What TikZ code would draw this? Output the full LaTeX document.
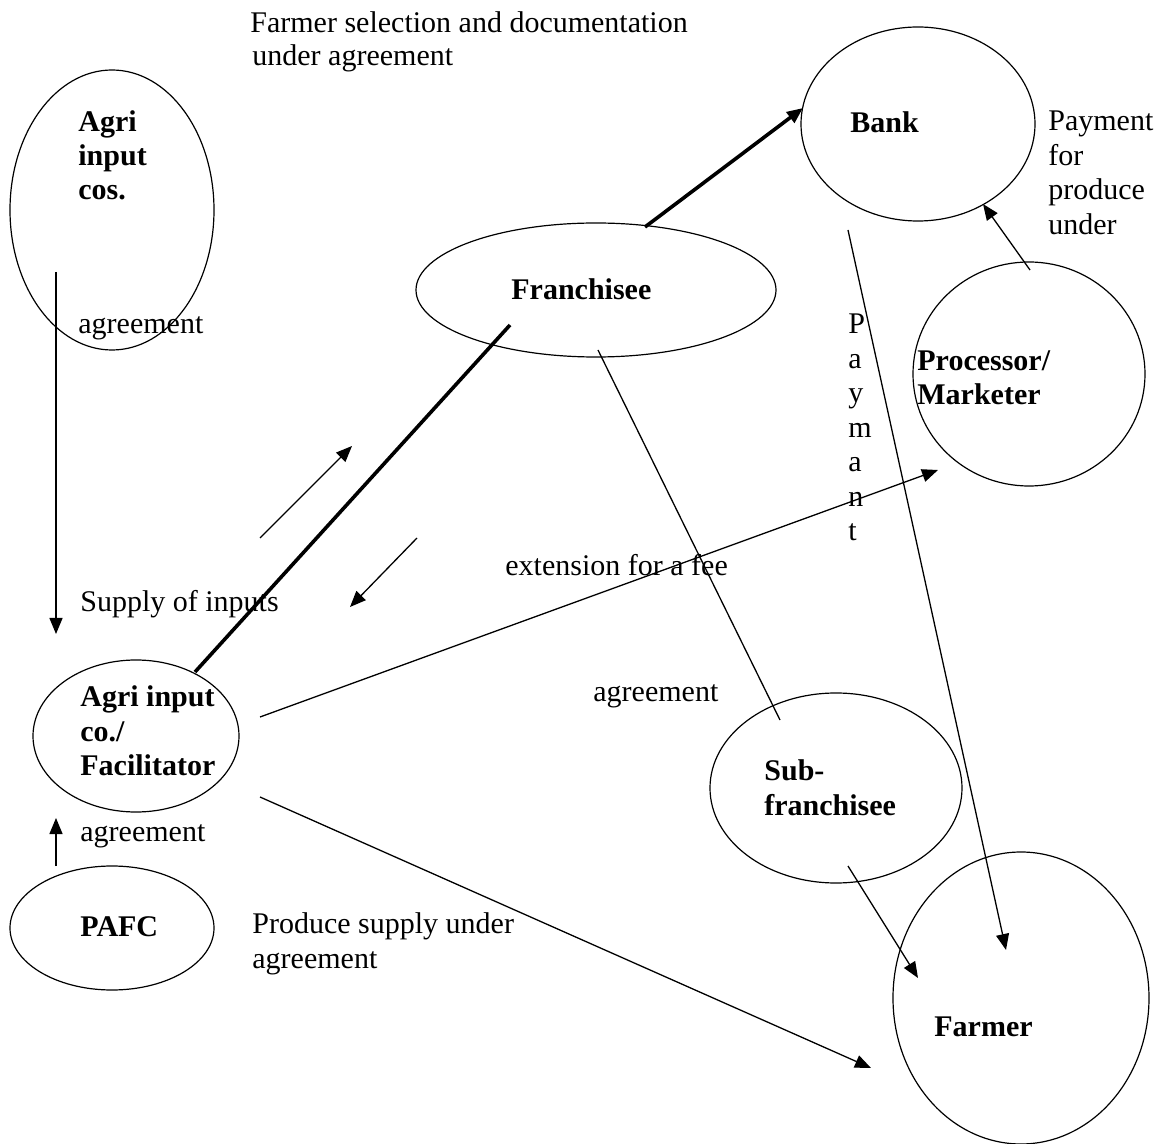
\documentclass[tikz,border=0pt]{standalone}
\usepackage{fontspec}
\setmainfont{Liberation Serif}
\usetikzlibrary{shapes.geometric,arrows.meta}
\tikzset{
  ell/.style={draw,ellipse,inner sep=0pt,line width=0.6pt},
  lbl/.style={anchor=base west,inner sep=0pt,font=\fontsize{15pt}{17.5pt}\selectfont},
  blbl/.style={lbl,font=\fontsize{15pt}{17.5pt}\selectfont\bfseries},
  thin/.style={line width=0.65pt},
  thick2/.style={line width=1.8pt},
  arr/.style={-{Triangle[length=8pt,width=6.5pt]}},
}
\begin{document}
\begin{tikzpicture}[x=0.5pt,y=-0.5pt]
\useasboundingbox (0,0) rectangle (1163,1144);
% ellipses
\node[ell,minimum width=102pt,minimum height=140pt] (agc) at (112,210) {};
\node[ell,minimum width=117pt,minimum height=97pt] (bank) at (918,124) {};
\node[ell,minimum width=180pt,minimum height=67pt] (fr) at (596,290) {};
\node[ell,minimum width=116pt,minimum height=112pt] (proc) at (1029,374) {};
\node[ell,minimum width=103pt,minimum height=76pt] (fac) at (136,736) {};
\node[ell,minimum width=102pt,minimum height=62pt] (pafc) at (112,928) {};
\node[ell,minimum width=126pt,minimum height=95pt] (sub) at (836,788) {};
\node[ell,minimum width=128pt,minimum height=146pt] (farmer) at (1021,998) {};
% bold labels
\node[blbl] (t1) at (78,132) {Agri};
\node[blbl] (t2) at (78,166) {input};
\node[blbl] (t3) at (78,200) {cos.};
\node[blbl] (t4) at (850,133) {Bank};
\node[blbl] (t5) at (511,300) {Franchisee};
\node[blbl] (t6) at (917,371) {Processor/};
\node[blbl] (t7) at (917,405) {Marketer};
\node[blbl] (t8) at (80,706) {Agri input};
\node[blbl] (t9) at (80,741) {co./};
\node[blbl] (t10) at (80,776) {Facilitator};
\node[blbl] (t11) at (80,936) {PAFC};
\node[blbl] (t12) at (764,780) {Sub-};
\node[blbl] (t13) at (764,815) {franchisee};
\node[blbl] (t14) at (934,1036) {Farmer};
% plain labels
\node[lbl] (l1) at (250,33) {Farmer selection and documentation};
\node[lbl] (l2) at (252,66) {under agreement};
\node[lbl] (l3) at (78,334) {agreement};
\node[lbl] (l4) at (80,611) {Supply of inputs};
\node[lbl] (l5) at (80,841) {agreement};
\node[lbl] (l6) at (252,933) {Produce supply under};
\node[lbl] (l7) at (252,968) {agreement};
\node[lbl] (l8) at (505,576) {extension for a fee};
\node[lbl] (l9) at (593,702) {agreement};
\node[lbl] (l10) at (1048,131) {Payment};
\node[lbl] (l11) at (1048,166) {for};
\node[lbl] (l12) at (1048,200) {produce};
\node[lbl] (l13) at (1048,235) {under};
\foreach \ch [count=\i from 0] in {P,a,y,m,a,n,t}{
  \node[lbl] (pay\i) at (848,334+34.5*\i) {\ch};
}
% connector end points
\coordinate (a1) at (56,272);  \coordinate (b1) at (56,634);
\coordinate (a2) at (56,866);  \coordinate (b2) at (56,818);
\coordinate (a3) at (195,672); \coordinate (b3) at (510,325);
\coordinate (a4) at (645,227); \coordinate (b4) at (803,108);
\coordinate (a5) at (260,538); \coordinate (b5) at (352,446);
\coordinate (a6) at (417,538); \coordinate (b6) at (350,607);
\coordinate (a7) at (598,350); \coordinate (b7) at (780,720);
\coordinate (a8) at (848,230); \coordinate (b8) at (1006,950);
\coordinate (a9) at (1030,270); \coordinate (b9) at (983,204);
\coordinate (a10) at (260,717); \coordinate (b10) at (938,470);
\coordinate (a11) at (260,797); \coordinate (b11) at (871,1068);
\coordinate (a12) at (848,866); \coordinate (b12) at (918,978);
% connectors
\draw[thin,arr] (a1) -- (b1);
\draw[thin,arr] (a2) -- (b2);
\draw[thick2] (a3) -- (b3);
\draw[thick2,arr] (a4) -- (b4);
\draw[thin,arr] (a5) -- (b5);
\draw[thin,arr] (a6) -- (b6);
\draw[thin] (a7) -- (b7);
\draw[thin,arr] (a8) -- (b8);
\draw[thin,arr] (a9) -- (b9);
\draw[thin,arr] (a10) -- (b10);
\draw[thin,arr] (a11) -- (b11);
\draw[thin,arr] (a12) -- (b12);
\end{tikzpicture}
\end{document}
